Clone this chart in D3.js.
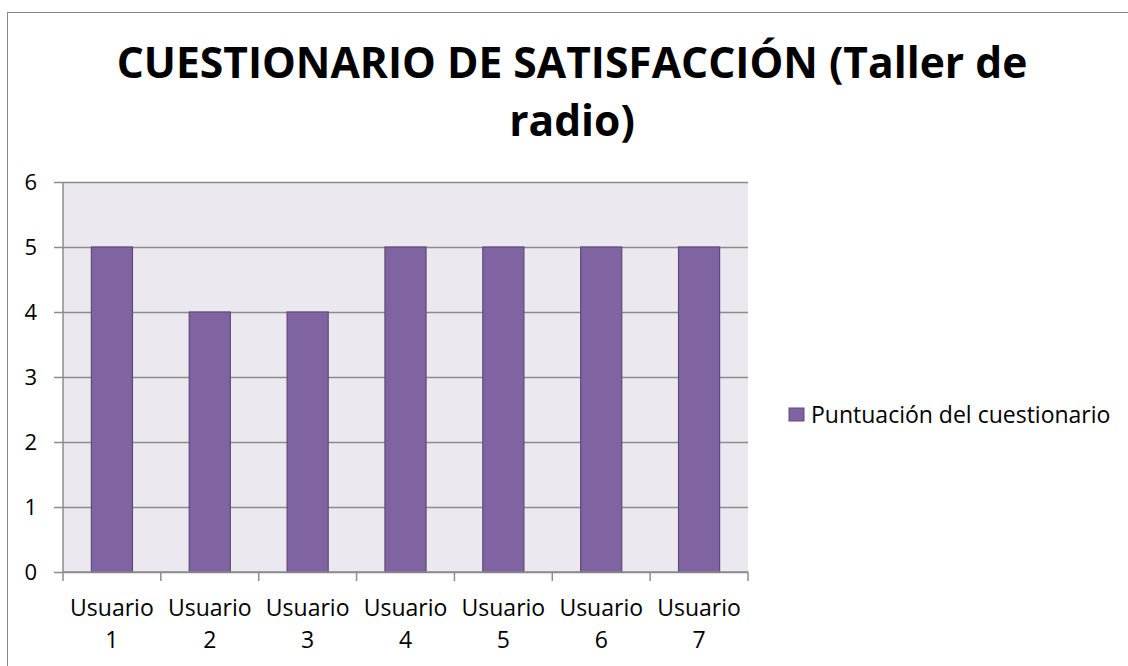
<!DOCTYPE html>
<html>
<head>
<meta charset="utf-8">
<script src="https://cdn.jsdelivr.net/npm/d3@7"></script>
<style>
  body { margin: 0; background: #fff; }
  text { font-family: "Open Sans", Lato, sans-serif; fill: #000; }
</style>
</head>
<body>
<svg id="chart" width="1128" height="666"></svg>
<script>
const categories = ['Usuario 1', 'Usuario 2', 'Usuario 3', 'Usuario 4', 'Usuario 5', 'Usuario 6', 'Usuario 7']
const scores = [5, 4, 4, 5, 5, 5, 5]
const yTicks = [0, 1, 2, 3, 4, 5, 6]
const seriesName = 'Puntuación del cuestionario'
const titleLines = ['CUESTIONARIO DE SATISFACCIÓN (Taller de', 'radio)']

const svg = d3.select('#chart')
const margin = { top: 182, left: 63, right: 380, bottom: 94 }
const width = 1128, height = 666
const plotW = width - margin.left - margin.right
const plotH = height - margin.top - margin.bottom
const gridColor = '#8c8c8c'

// outer chart border
svg.append('rect')
  .attr('x', 7.5).attr('y', 12.5)
  .attr('width', 1130).attr('height', 670)
  .attr('fill', '#fff').attr('stroke', '#868686').attr('stroke-width', 1)

// title
const title = svg.selectAll('.title')
  .data(titleLines)
  .enter().append('text')
    .attr('class', 'title')
    .attr('x', 572)
    .attr('y', (d, i) => 78 + i * 58)
    .attr('text-anchor', 'middle')
    .style('font-size', '36px')
    .style('font-weight', 'bold')
    .text(d => d)
// fit first line to the reference's width
const w0 = title.node().getComputedTextLength()
title.style('font-size', (36 * 911 / w0) + 'px')

const x = d3.scaleBand().domain(categories).range([0, plotW]).paddingInner(0.58).paddingOuter(0.29)
const xCat = d3.scaleBand().domain(categories).range([0, plotW])
const y = d3.scaleLinear().domain([0, 6]).range([plotH, 0])

const chart = svg.append('g')
  .attr('transform', `translate(${margin.left}, ${margin.top})`)

chart.append('rect')
  .attr('width', plotW).attr('height', plotH)
  .attr('fill', '#EBE9EF')

// gridlines
chart.append('g')
  .call(d3.axisRight(y).tickValues(yTicks).tickSize(plotW).tickFormat(''))
  .call(g => g.select('.domain').remove())
  .call(g => g.selectAll('line').attr('stroke', gridColor).attr('stroke-width', 1.5))

// y axis
chart.append('g')
  .call(d3.axisLeft(y).tickValues(yTicks).tickSize(9).tickPadding(17).tickFormat(d3.format('d')))
  .call(g => g.selectAll('line, path').attr('stroke', gridColor).attr('stroke-width', 1.5))
  .call(g => g.select('.domain').attr('d', `M0,0V${plotH}`))
  .call(g => g.selectAll('text').style('font-size', '22px').attr('font-family', null))

// bars
chart.selectAll('.bar')
  .data(scores)
  .enter().append('rect')
    .attr('class', 'bar')
    .attr('x', (d, i) => x(categories[i]))
    .attr('y', d => y(d))
    .attr('width', x.bandwidth())
    .attr('height', d => plotH - y(d))
    .attr('fill', '#8064A2')
    .attr('stroke', '#5E4A7A')
    .attr('stroke-width', 1.2)

// x axis
const xTicks = d3.range(categories.length + 1).map(i => i * xCat.step())
const xAxisG = chart.append('g').attr('transform', `translate(0, ${plotH})`)
xAxisG.append('line')
  .attr('x1', 0).attr('x2', plotW)
  .attr('stroke', gridColor).attr('stroke-width', 1.5)
xAxisG.selectAll('.xtick')
  .data(xTicks)
  .enter().append('line')
    .attr('x1', d => d).attr('x2', d => d)
    .attr('y1', 0).attr('y2', 9)
    .attr('stroke', gridColor).attr('stroke-width', 1.5)

const labels = xAxisG.selectAll('.xlabel')
  .data(categories)
  .enter().append('text')
    .attr('class', 'xlabel')
    .attr('text-anchor', 'middle')
    .style('font-size', '23px')
    .attr('transform', d => `translate(${xCat(d) + xCat.bandwidth() / 2}, 0)`)
labels.append('tspan').attr('x', 0).attr('y', 44).text(d => d.split(' ')[0])
labels.append('tspan').attr('x', 0).attr('y', 76).text(d => d.split(' ')[1])

// legend
const legend = svg.append('g').attr('transform', 'translate(789, 408)')
legend.append('rect')
  .attr('width', 15).attr('height', 13)
  .attr('fill', '#8064A2').attr('stroke', '#5E4A7A')
legend.append('text')
  .attr('x', 22).attr('y', 7)
  .attr('dy', '0.35em')
  .style('font-size', '23px')
  .text(seriesName)
</script>
</body>
</html>
